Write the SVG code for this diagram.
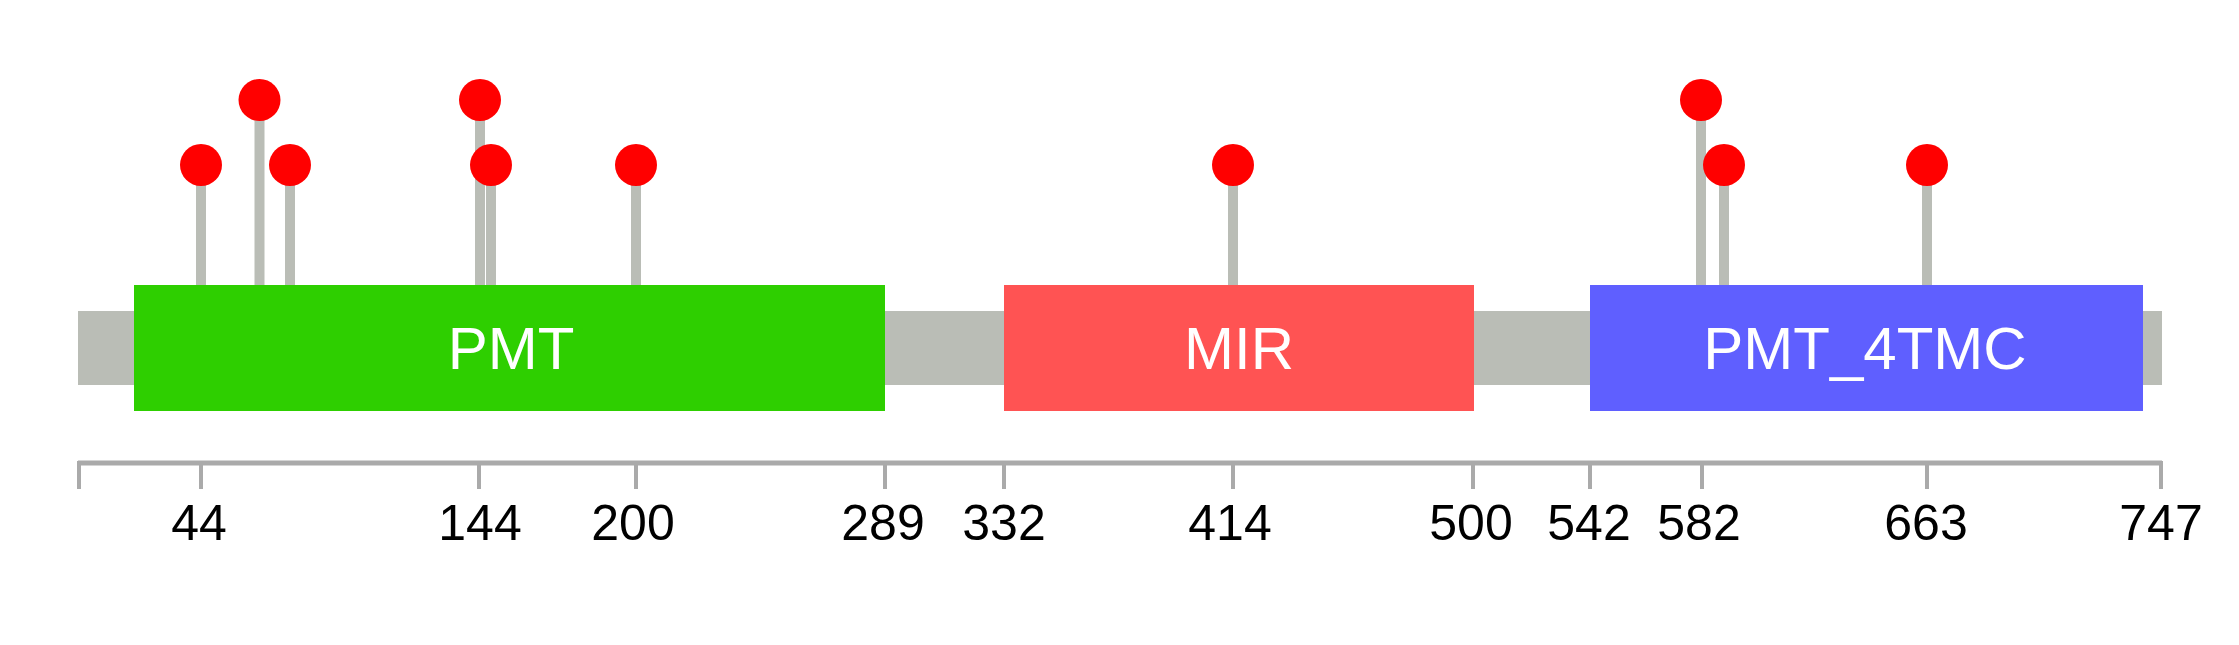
<svg xmlns="http://www.w3.org/2000/svg" width="2239" height="645" viewBox="0 0 2239 645">
<style>
.stem{stroke:#BABDB6;stroke-width:10;}
.head{fill:#FF0000;}
.dom{font-family:"Liberation Sans",Arial,sans-serif;font-size:60px;fill:#FFFFFF;text-anchor:middle;}
.lbl{font-family:"Liberation Sans",Arial,sans-serif;font-size:50px;fill:#000000;text-anchor:middle;}
.tick{stroke:#AAAAAA;stroke-width:4;}
</style>
<rect width="2239" height="645" fill="#FFFFFF"/>
<g id="backbone"><rect x="78" y="311" width="2084" height="74" fill="#BABDB6"/></g>
<g id="connectors">
<line class="stem" x1="201" y1="165" x2="201" y2="285"/>
<line class="stem" x1="259.5" y1="100" x2="259.5" y2="285"/>
<line class="stem" x1="290" y1="165" x2="290" y2="285"/>
<line class="stem" x1="480" y1="100" x2="480" y2="285"/>
<line class="stem" x1="491" y1="165" x2="491" y2="285"/>
<line class="stem" x1="636" y1="165" x2="636" y2="285"/>
<line class="stem" x1="1233" y1="165" x2="1233" y2="285"/>
<line class="stem" x1="1701" y1="100" x2="1701" y2="285"/>
<line class="stem" x1="1724" y1="165" x2="1724" y2="285"/>
<line class="stem" x1="1927" y1="165" x2="1927" y2="285"/>
</g>
<g id="domain-PMT"><rect x="134" y="285" width="751" height="126" fill="#2ECF00"/><text class="dom" x="511" y="369">PMT</text></g>
<g id="domain-MIR"><rect x="1004" y="285" width="470" height="126" fill="#FF5353"/><text class="dom" x="1239" y="369">MIR</text></g>
<g id="domain-PMT_4TMC"><rect x="1590" y="285" width="553" height="126" fill="#5F5FFF"/><text class="dom" x="1865" y="369">PMT_4TMC</text></g>
<g id="mutations">
<circle class="head" cx="201" cy="165" r="21"/>
<circle class="head" cx="259.5" cy="100" r="21"/>
<circle class="head" cx="290" cy="165" r="21"/>
<circle class="head" cx="480" cy="100" r="21"/>
<circle class="head" cx="491" cy="165" r="21"/>
<circle class="head" cx="636" cy="165" r="21"/>
<circle class="head" cx="1233" cy="165" r="21"/>
<circle class="head" cx="1701" cy="100" r="21"/>
<circle class="head" cx="1724" cy="165" r="21"/>
<circle class="head" cx="1927" cy="165" r="21"/>
</g>
<g id="axis">
<line x1="78" y1="463" x2="2162" y2="463" stroke="#AAAAAA" stroke-width="5"/>
<line class="tick" x1="79" y1="461" x2="79" y2="489"/>
<line class="tick" x1="201" y1="463" x2="201" y2="489"/>
<line class="tick" x1="479" y1="463" x2="479" y2="489"/>
<line class="tick" x1="636" y1="463" x2="636" y2="489"/>
<line class="tick" x1="885" y1="463" x2="885" y2="489"/>
<line class="tick" x1="1004" y1="463" x2="1004" y2="489"/>
<line class="tick" x1="1233" y1="463" x2="1233" y2="489"/>
<line class="tick" x1="1473" y1="463" x2="1473" y2="489"/>
<line class="tick" x1="1590" y1="463" x2="1590" y2="489"/>
<line class="tick" x1="1702" y1="463" x2="1702" y2="489"/>
<line class="tick" x1="1927" y1="463" x2="1927" y2="489"/>
<line class="tick" x1="2161" y1="461" x2="2161" y2="489"/>
<text class="lbl" x="199" y="540">44</text>
<text class="lbl" x="480" y="540">144</text>
<text class="lbl" x="633" y="540">200</text>
<text class="lbl" x="883" y="540">289</text>
<text class="lbl" x="1004" y="540">332</text>
<text class="lbl" x="1230" y="540">414</text>
<text class="lbl" x="1471" y="540">500</text>
<text class="lbl" x="1589" y="540">542</text>
<text class="lbl" x="1699" y="540">582</text>
<text class="lbl" x="1926" y="540">663</text>
<text class="lbl" x="2161" y="540">747</text>
</g>
</svg>
